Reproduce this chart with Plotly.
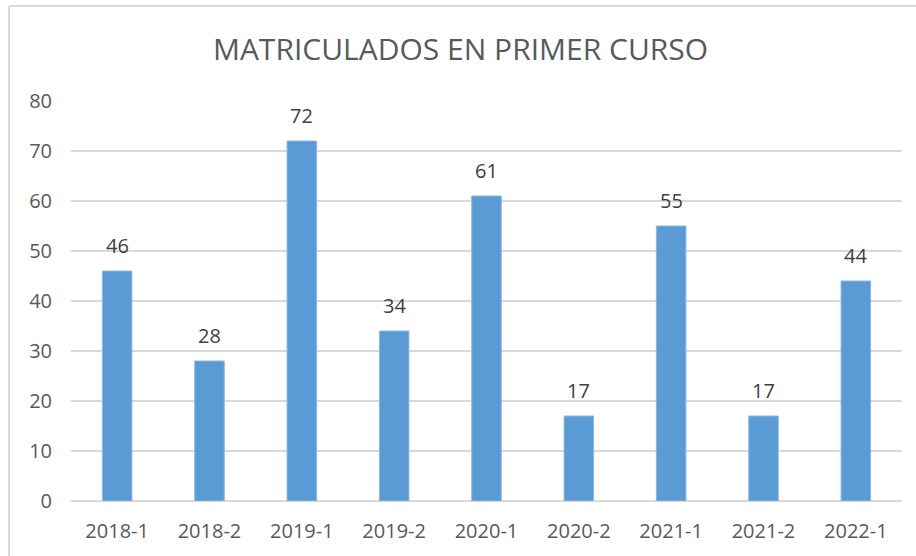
import plotly.graph_objects as go

categories = ["2018-1", "2018-2", "2019-1", "2019-2", "2020-1", "2020-2", "2021-1", "2021-2", "2022-1"]
values = [46, 28, 72, 34, 61, 17, 55, 17, 44]
title_text = "MATRICULADOS EN PRIMER CURSO"

W, H = 916, 556
ml, mr, mt, mb = 71, 14, 101, 55
pw, ph = W - ml - mr, H - mt - mb
FONT = "Open Sans, Noto Sans, sans-serif"

def px_x(x):
    return (x - ml) / pw

def px_y(y):
    return 1 - (y - mt) / ph

fig = go.Figure(go.Bar(
    x=categories, y=values,
    marker=dict(color="#5B9BD5", line=dict(color="#8DB8E3", width=1)),
    hoverinfo="x+y",
))

annotations = [
    dict(x=c, y=v, xref="x", yref="y", text=str(v), showarrow=False,
         yanchor="bottom", yshift=10, font=dict(size=20, color="#404040", family=FONT))
    for c, v in zip(categories, values)
]

fig.update_layout(
    width=W, height=H,
    margin=dict(l=ml, r=mr, t=mt, b=mb, autoexpand=False),
    paper_bgcolor="white", plot_bgcolor="white",
    bargap=0.68,
    showlegend=False,
    font=dict(family=FONT, color="#595959"),
    title=dict(text=title_text, xref="container", yref="container", x=460.5 / W, xanchor="center",
               y=1 - 49 / H, yanchor="middle",
               font=dict(size=30, color="#595959")),
    xaxis=dict(type="category", showgrid=False, showline=False, ticks="",
               tickfont=dict(size=20, color="#595959"), automargin=False, ticklabelstandoff=16),
    yaxis=dict(range=[0, 80], dtick=10, showgrid=True, gridcolor="#D9D9D9", gridwidth=1.5,
               zeroline=True, zerolinecolor="#D9D9D9", zerolinewidth=1.5, automargin=False,
               tickfont=dict(size=20, color="#595959"), ticklabelstandoff=18, showline=False),
    annotations=annotations,
    shapes=[
        dict(type="line", xref="paper", yref="paper", x0=px_x(9), x1=px_x(9), y0=px_y(6), y1=px_y(H + 5),
             line=dict(color="#D9D9D9", width=2)),
        dict(type="line", xref="paper", yref="paper", x0=px_x(9), x1=px_x(W + 5), y0=px_y(6), y1=px_y(6),
             line=dict(color="#D9D9D9", width=2)),
    ],
)

fig.write_html("out.html", config={"displayModeBar": False},
               post_script="document.body.style.margin='0';document.body.style.overflow='hidden';")
